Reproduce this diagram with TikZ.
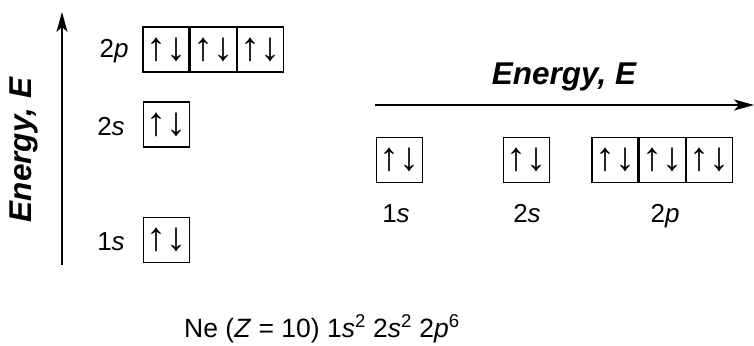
\documentclass[tikz,border=0pt]{standalone}
\usepackage{fontspec}
\setmainfont{Liberation Sans}
\usetikzlibrary{arrows.meta}
\tikzset{
  orb/.style={draw, line width=1.3pt, minimum width=46pt, minimum height=45pt, inner sep=0pt,
    font=\fontsize{40}{42}\selectfont},
  lbl/.style={anchor=base, inner sep=0pt, font=\fontsize{26}{29}\selectfont},
  axislbl/.style={inner sep=0pt, font=\fontsize{31.5}{34}\selectfont\bfseries\itshape},
  axis/.style={line width=1.2pt, -{Stealth[length=20pt,width=11pt,inset=5pt]}},
}
\begin{document}
\begin{tikzpicture}[x=1pt,y=-1pt]
\useasboundingbox (0,0) rectangle (754,345);
% vertical energy axis
\coordinate (vb) at (62,265);
\coordinate (vt) at (62,12);
\draw[axis] (vb) -- (vt);
\node[axislbl, rotate=90] (vlab) at (24,150) {Energy, \textit{E}};
% left diagram
\node[orb] (p1) at (166,49.5) {↑↓};
\node[orb, anchor=west] (p2) at (p1.east) {↑↓};
\node[orb, anchor=west] (p3) at (p2.east) {↑↓};
\node[orb] (s2) at (166.5,124.5) {↑↓};
\node[orb] (s1) at (166.5,240) {↑↓};
\node[lbl] (lp) at (114,57) {2\textit{p}};
\node[lbl] (ls2) at (111,135) {2\textit{s}};
\node[lbl] (ls1) at (111,250) {1\textit{s}};
% horizontal energy axis
\coordinate (hl) at (375,105);
\coordinate (hr) at (754,105);
\draw[axis] (hl) -- (hr);
\node[axislbl, anchor=base] (hlab) at (564,84) {Energy, \textit{E}};
% right diagram
\node[orb] (r1) at (399.5,160) {↑↓};
\node[orb] (r2) at (526.5,160) {↑↓};
\node[orb] (rp1) at (615,160) {↑↓};
\node[orb, anchor=west] (rp2) at (rp1.east) {↑↓};
\node[orb, anchor=west] (rp3) at (rp2.east) {↑↓};
\node[lbl] (rl1) at (396,222) {1\textit{s}};
\node[lbl] (rl2) at (527,222) {2\textit{s}};
\node[lbl] (rl3) at (665,222) {2\textit{p}};
% configuration
\node[anchor=base west, inner sep=0pt, font=\fontsize{26.5}{29}\selectfont] (cfg) at (184,337)
  {Ne (\textit{Z} = 10) 1\textit{s}\textsuperscript{2} 2\textit{s}\textsuperscript{2} 2\textit{p}\textsuperscript{6}};
\end{tikzpicture}
\end{document}
